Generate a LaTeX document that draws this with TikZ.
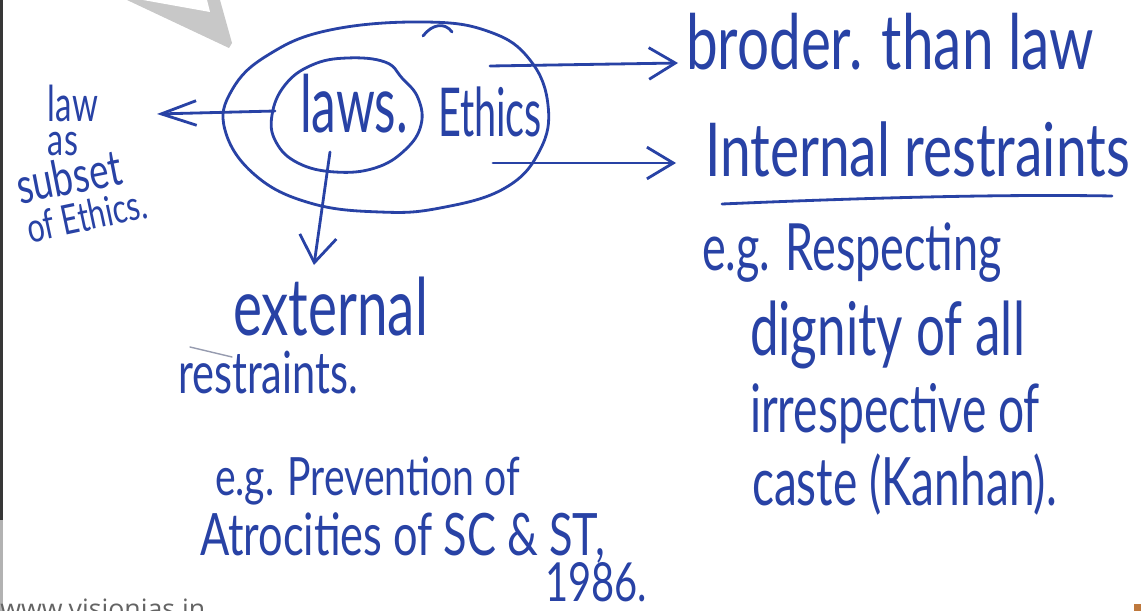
\documentclass[tikz,border=0pt]{standalone}
\usepackage{graphicx}
\usepackage{fontspec}
\setmainfont{Lato}
\newfontfamily\wmfont{Open Sans}
\usetikzlibrary{arrows.meta}
\definecolor{ink}{RGB}{40,66,165}
\definecolor{wmgray}{RGB}{200,200,200}
\definecolor{sitegray}{RGB}{100,100,100}
\definecolor{edgegray}{RGB}{55,55,55}
\definecolor{pencil}{RGB}{150,155,175}
\definecolor{cornerdot}{RGB}{190,120,60}
\newlength\px \setlength\px{0.5691pt}
\newcommand\hw[3][1.35]{\resizebox{#2\px}{!}{\scalebox{1}[#1]{#3}}}
\begin{document}
\begin{tikzpicture}[x=0.02cm,y=-0.02cm,
  hand/.style={text=ink, inner sep=0pt, outer sep=0pt, anchor=base west},
  pen/.style={draw=ink, line width=1.6pt, line cap=round, line join=round},
  leftarrow/.style={pen, -{Straight Barb[length=20pt,width=14pt,line width=1.6pt]}},
  rightarrow/.style={pen, -{Straight Barb[length=15pt,width=18pt,line width=1.6pt]}},
  downarrow/.style={pen, -{Straight Barb[length=15pt,width=21pt,line width=1.6pt]}}]
\useasboundingbox (0,0) rectangle (1141,611);
\clip (0,0) rectangle (1141,611);
\fill[white] (0,0) rectangle (1141,611);
% scan artefacts
\fill[edgegray] (0,0) rectangle (2.5,520);
\fill[gray!60] (0,520) rectangle (2.5,611);
\fill[wmgray] (127,0) -- (220,0) -- (232,43) -- (229,48) -- cycle;
\fill[white] (143,0) -- (207,0) -- (210,12) -- cycle;
\fill[cornerdot] (1134,604) rectangle (1141,611);
\node[anchor=base west, inner sep=0pt, text=sitegray] (site) at (0,618)
  {\resizebox{205\px}{!}{\wmfont www.visionias.in}};

% ellipses
\draw[pen] plot[smooth cycle, tension=0.7] coordinates {
  (425,22) (490,32) (530,60) (548,105) (540,150) (505,188) (440,208)
  (380,212) (310,203) (255,175) (225,130) (232,90) (268,55) (330,30)};
\draw[pen] (423,36) .. controls (432,24) and (445,22) .. (452,32);
\draw[pen] plot[smooth cycle, tension=0.7] coordinates {
  (347,58) (385,62) (402,78) (418,98) (421,125) (405,150) (375,168)
  (335,172) (298,163) (276,142) (272,115) (285,85) (312,65)};

% text
\node[hand] (law) at (48,122) {\hw[1.5]{50}{law}};
\node[hand] (as) at (48,156) {\hw[1.4]{30}{as}};
\node[hand, rotate=11] (subset) at (20,204) {\hw{106}{subset}};
\node[hand, rotate=12] (ofethics) at (30,243) {\hw{122}{of Ethics.}};
\node[hand] (laws) at (300,133) {\hw[1.6]{108}{laws.}};
\node[hand] (ethics) at (438,137) {\hw[1.7]{104}{Ethics}};
\node[hand] (broder) at (686,70) {\hw{408}{broder. than law}};
\node[hand] (internal) at (705,176) {\hw{425}{Internal restraints}};
\node[hand] (eg1) at (702,270) {\hw[1.45]{300}{e.g. Respecting}};
\node[hand] (dignity) at (750,355) {\hw[1.45]{275}{dignity of all}};
\node[hand] (irresp) at (750,432) {\hw[1.45]{290}{irrespective of}};
\node[hand] (caste) at (752,505) {\hw[1.45]{305}{caste (Kanhan).}};
\node[hand] (external) at (233,335) {\hw[1.45]{195}{external}};
\node[hand] (restr) at (178,393) {\hw[1.4]{180}{restraints.}};
\node[hand] (eg2) at (215,495) {\hw{305}{e.g. Prevention of}};
\node[hand] (atro) at (200,555) {\hw{405}{Atrocities of SC \& ST,}};
\node[hand] (year) at (545,601) {\hw{102}{1986.}};

% underline and pencil mark
\draw[pen] (722,204) .. controls (860,198) and (1000,194) .. (1112,196);
\draw[pencil, line width=0.8pt, line cap=round] (190,347) -- (232,357);

% connectors
\coordinate (lstart) at (275,111);
\coordinate (ltip) at (157,114);
\coordinate (r1start) at (490,66);
\coordinate (r1tip) at (678,63);
\coordinate (r2start) at (493,163);
\coordinate (r2tip) at (676,163);
\coordinate (dstart) at (330,152);
\coordinate (dtip) at (314,265);
\draw[leftarrow] (lstart) -- (ltip);
\draw[rightarrow] (r1start) -- (r1tip);
\draw[rightarrow] (r2start) -- (r2tip);
\draw[downarrow] (dstart) -- (dtip);
\end{tikzpicture}
\end{document}
